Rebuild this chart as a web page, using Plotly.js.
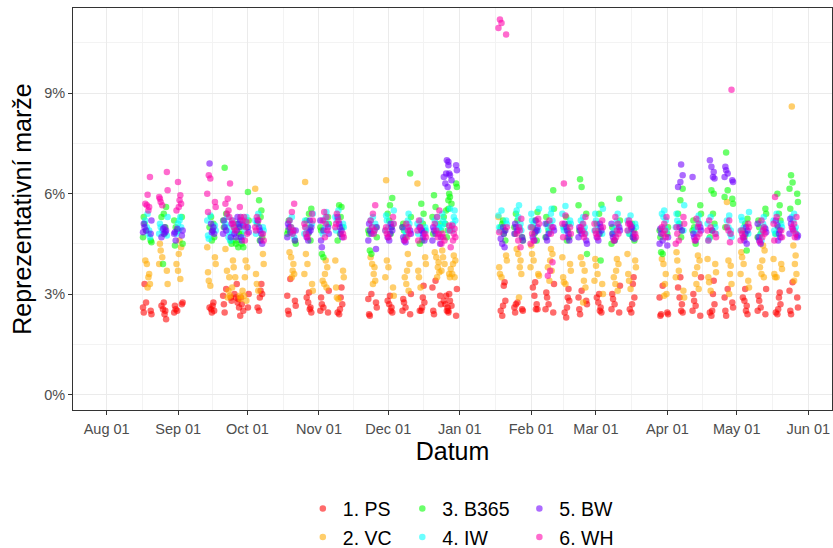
<!DOCTYPE html>
<html>
<head>
<meta charset="utf-8">
<script src="https://cdn.plot.ly/plotly-3.0.1.min.js"></script>
<style>html,body{margin:0;padding:0;background:#fff;}#chart{width:833px;height:548px;}</style>
</head>
<body>
<div id="chart"></div>
<script>
// Centre date of each weekly cluster of observations
const clusterDates = [
  "2020-08-18 14:00","2020-08-25 14:00","2020-09-01 02:00","2020-09-15 10:00","2020-09-22 07:00",
  "2020-09-26 05:00","2020-09-29 17:00","2020-10-06 05:00","2020-10-20 02:00","2020-10-27 12:00",
  "2020-11-03 10:00","2020-11-09 22:00","2020-11-24 05:00","2020-12-01 14:00","2020-12-09 00:00",
  "2020-12-15 12:00","2020-12-22 00:00","2020-12-25 22:00","2020-12-28 22:00","2021-01-19 14:00",
  "2021-01-26 12:00","2021-02-02 12:00","2021-02-09 00:00","2021-02-16 07:00","2021-02-23 07:00",
  "2021-03-02 05:00","2021-03-09 14:00","2021-03-16 12:00","2021-03-30 10:00","2021-04-06 10:00",
  "2021-04-13 17:00","2021-04-20 05:00","2021-04-27 14:00","2021-05-04 12:00","2021-05-11 22:00",
  "2021-05-18 19:00","2021-05-25 17:00"
];

// Representative margin (%) per cluster for each bookmaker
const ps = [
 [2.75,2.6,2.5,2.4,2.45,3.3],[2.75,2.65,2.55,2.5,2.4,2.25],[2.75,2.65,2.55,2.5,2.45,2.7],[2.75,2.65,2.5,2.45,2.6,2.55],
 [3.15,2.95,2.9,2.8,2.7,2.45],[3.3,3.0,2.9,2.85,2.75,2.6],[3.0,2.9,2.7,2.5,2.35,2.6],[3.3,3.1,3.0,2.9,2.6,2.5],
 [3.45,2.95,2.8,2.65,2.5,2.4],[3.05,2.9,2.75,2.6,2.55,2.45],[3.1,2.9,2.7,2.6,2.5,2.45],[3.2,2.9,2.7,2.55,2.45,2.4],
 [3.0,2.85,2.75,2.6,2.4,2.35],[2.95,2.8,2.7,2.6,2.5,2.45],[3.0,2.85,2.75,2.6,2.5,2.4],[3.25,2.9,2.75,2.6,2.5,2.5],
 [3.4,3.2,2.95,2.7,2.5,2.4],[2.95,2.8,2.7,2.6,2.5,2.45],[3.15,3.0,2.8,2.65,2.5,2.35],[3.35,3.25,2.8,2.65,2.5,2.35],
 [2.75,2.6,2.55,2.5,2.45,2.7],[3.35,3.2,2.95,2.7,2.55,2.55],[3.3,3.05,2.9,2.7,2.55,2.45],[3.15,2.9,2.8,2.6,2.45,2.3],
 [3.1,2.9,2.8,2.7,2.55,2.4],[3.0,2.9,2.75,2.6,2.5,2.45],[3.25,3.0,2.85,2.7,2.55,2.45],[3.5,3.3,2.9,2.7,2.55,2.45],
 [3.25,2.9,2.45,2.4,2.35,2.4],[3.5,3.2,2.9,2.7,2.5,2.45],[3.5,3.0,2.8,2.65,2.5,2.35],[3.4,3.0,2.7,2.5,2.45,2.35],
 [3.15,2.9,2.75,2.6,2.5,2.35],[3.15,2.9,2.8,2.65,2.5,2.4],[3.15,2.95,2.8,2.6,2.5,2.4],[3.05,2.9,2.7,2.55,2.45,2.4],
 [3.35,3.1,2.9,2.6,2.5,2.4]
];
const vc = [
 [4.0,3.9,3.6,3.5,3.3,3.2],[4.5,4.3,4.1,3.9,3.7,3.3],[4.6,4.4,4.2,3.9,3.7,3.45],[4.4,4.1,3.9,3.65,3.4,3.25],
 [4.35,3.7,3.5,3.1,2.95,2.9],[4.0,3.8,3.5,3.2,2.95,2.85],[4.0,3.8,3.5,3.1,2.95,2.8],[6.15,4.2,3.9,3.6,3.3,3.1],
 [4.25,4.1,3.9,3.7,3.6,3.5],[6.35,4.2,3.9,3.6,3.3,3.1],[4.0,3.8,3.6,3.4,3.3,3.2],[4.0,3.7,3.5,3.2,2.9,2.85],
 [4.1,3.9,3.8,3.6,3.4,3.3],[6.4,4.0,3.8,3.5,3.2,2.95],[4.2,3.9,3.7,3.5,3.3,3.1],[6.3,4.1,3.9,3.7,3.5,3.2],
 [4.25,4.1,3.95,3.8,3.65,3.5],[4.3,4.1,3.9,3.7,3.6,3.5],[4.15,4.0,3.9,3.75,3.6,3.5],[5.3,4.15,4.0,3.8,3.6,3.5],
 [4.35,4.2,4.0,3.8,3.6,2.9],[4.45,4.2,4.0,3.8,3.6,3.55],[4.35,4.2,4.0,3.8,3.4,3.7],[4.1,3.9,3.7,3.5,3.35,3.3],
 [4.1,3.9,3.7,3.4,3.2,2.75],[4.05,3.85,3.6,3.4,3.3,3.0],[4.05,3.9,3.7,3.5,3.3,3.1],[4.2,4.0,3.8,3.6,3.4,3.15],
 [4.05,3.9,3.6,3.3,3.0,2.95],[4.25,4.0,3.7,3.5,3.1,2.9],[4.15,4.0,3.8,3.6,3.3,3.15],[4.05,3.9,3.65,3.5,3.35,3.1],
 [5.75,4.0,3.85,3.6,3.3,3.0],[4.25,4.1,3.9,3.6,3.4,3.2],[4.45,4.3,4.0,3.8,3.6,3.5],[4.05,3.9,3.75,3.6,3.5,3.5],
 [8.6,4.45,4.15,3.9,3.6,3.4]
];
const b365 = [
 [5.1,4.9,4.7,4.6,4.55,5.3],[5.6,5.4,5.3,3.9,5.0,4.8],[5.3,4.5,4.45,5.0,4.9,5.2],[5.3,5.1,4.9,4.7,4.6,5.0],
 [6.77,5.4,5.2,4.6,4.5,5.0],[4.8,4.6,5.0,4.5,4.4,5.1],[6.05,5.2,4.8,4.5,4.4,5.0],[5.8,5.5,5.3,4.7,4.6,5.1],
 [5.2,5.0,4.8,4.6,4.5,4.9],[5.55,5.4,5.2,4.8,4.6,5.0],[5.3,5.1,4.9,4.2,4.1,5.0],[5.65,5.6,5.3,5.0,4.8,4.6],
 [4.3,4.2,4.9,5.0,4.7,4.8],[5.87,5.65,5.4,5.2,5.0,4.8],[6.6,5.3,5.1,4.9,4.7,5.0],[5.7,5.4,5.1,4.9,4.6,4.5],
 [5.95,5.6,5.3,5.1,4.9,4.8],[5.8,5.5,5.3,5.1,4.9,4.7],[6.3,6.2,6.0,5.9,5.7,5.55],[5.1,4.9,4.8,4.6,5.2,5.0],
 [5.4,5.2,5.0,4.7,4.6,4.8],[5.45,5.2,5.0,4.8,4.6,4.9],[6.1,5.55,5.3,5.1,4.9,4.7],[5.3,5.1,4.9,4.7,4.6,5.0],
 [6.43,6.2,5.65,5.4,4.2,4.9],[5.67,5.4,5.1,4.9,4.0,4.8],[5.85,5.2,5.0,4.8,4.6,4.5],[5.0,4.9,4.7,4.6,5.1,4.8],
 [4.25,4.2,4.9,4.8,5.0,4.7],[6.15,5.8,5.4,5.1,4.9,4.7],[5.65,5.4,5.2,5.0,4.5,4.9],[6.1,6.0,5.4,5.1,4.9,4.7],
 [7.23,6.1,5.9,5.85,5.7,5.0],[5.25,5.1,4.9,4.7,4.3,4.8],[5.55,5.4,5.2,5.0,4.8,4.7],[6.0,5.65,5.4,5.2,5.0,4.8],
 [6.55,6.33,6.15,6.0,5.75,5.55]
];
const iw = [
 [5.4,5.2,5.0,4.9,4.8,4.7],[5.3,5.1,5.0,4.9,4.8,4.75],[5.3,5.2,5.0,4.9,4.8,5.1],[5.35,5.2,5.05,4.9,4.75,4.65],
 [5.3,5.1,5.0,4.85,4.7,4.6],[5.3,5.2,5.0,4.9,4.8,5.1],[5.3,5.2,5.0,4.9,4.7,5.1],[5.4,5.2,5.0,4.9,4.8,5.1],
 [5.3,5.2,5.0,4.9,4.8,4.7],[5.4,5.2,5.0,4.9,4.8,5.1],[5.45,5.3,5.1,5.0,4.8,5.2],[5.5,5.3,5.1,5.0,4.9,5.2],
 [5.3,5.2,5.0,4.9,4.85,5.1],[5.5,5.35,5.2,5.0,4.9,5.1],[5.4,5.2,5.1,5.0,4.9,4.8],[5.2,5.1,5.0,4.9,4.8,5.0],
 [5.3,5.2,5.1,5.0,4.9,5.0],[5.55,5.4,5.2,5.1,5.0,4.9],[5.5,5.3,5.2,5.1,5.0,4.9],[5.5,5.35,5.2,5.1,5.0,4.9],
 [5.65,5.5,5.3,5.1,5.0,4.9],[5.55,5.4,5.2,5.1,5.0,4.9],[5.55,5.4,5.2,5.1,5.0,4.85],[5.63,5.4,5.2,5.1,5.0,4.9],
 [5.3,5.2,5.1,5.0,4.9,4.8],[5.55,5.4,5.2,5.05,4.9,4.8],[5.4,5.2,5.1,5.0,4.9,4.8],[5.35,5.2,5.1,5.0,4.9,4.8],
 [5.5,5.4,5.3,5.2,5.0,4.9],[5.65,5.4,5.2,5.1,5.0,4.9],[5.35,5.2,5.1,5.0,4.9,4.8],[5.3,5.1,5.0,4.8,4.6,4.65],
 [5.35,5.2,5.0,4.9,4.8,4.7],[5.45,5.3,5.2,5.0,4.9,4.8],[5.3,5.1,5.0,4.9,4.75,4.6],[5.4,5.2,5.1,5.0,4.9,4.8],
 [5.4,5.3,5.2,5.0,4.9,4.8]
];
const bw = [
 [5.1,5.0,4.9,4.85,4.8,5.2],[5.0,4.9,4.8,4.7,4.95,4.85],[4.8,4.75,4.9,4.85,4.6,4.95],[6.9,5.1,5.0,4.9,4.8,4.85],
 [5.2,5.0,4.9,4.8,4.7,5.1],[5.3,5.0,4.9,4.8,4.7,5.1],[5.2,5.0,4.85,4.7,4.6,5.05],[5.2,5.0,4.8,4.6,4.5,4.9],
 [5.1,5.0,4.85,4.7,4.6,4.9],[5.2,5.0,4.85,4.7,4.6,4.9],[5.2,5.0,4.8,4.6,4.4,4.9],[5.3,5.1,4.9,4.8,4.7,5.0],
 [5.1,4.9,4.8,4.6,4.35,5.0],[5.1,4.9,4.8,4.7,4.6,5.0],[5.0,4.9,4.8,4.7,4.6,4.55],[5.0,4.9,4.8,4.7,4.6,4.9],
 [5.0,4.9,4.8,4.6,4.5,4.7],[7.0,6.85,6.6,6.5,6.3,6.2],[6.95,6.85,6.7,6.6,6.55,6.4],[4.65,4.5,4.4,4.8,4.9,5.0],
 [5.1,5.0,4.9,4.8,4.7,4.6],[5.2,5.0,4.85,4.7,4.6,4.9],[5.1,5.0,4.9,4.7,4.6,4.8],[5.1,5.0,4.8,4.7,4.6,4.9],
 [5.0,4.9,4.8,4.7,4.6,4.5],[5.1,4.9,4.8,4.7,4.6,5.0],[5.1,5.0,4.9,4.8,4.7,4.6],[5.1,4.95,4.8,4.7,4.65,5.0],
 [4.95,4.8,4.6,4.5,4.45,4.7],[6.87,6.55,6.35,6.2,5.0,4.9],[6.5,5.0,4.9,4.8,4.7,4.6],[7.0,6.8,6.65,6.5,6.45,4.9],
 [6.8,6.7,6.6,6.5,6.4,6.35],[5.0,4.9,4.8,4.7,4.6,4.5],[5.1,4.95,4.85,4.7,4.6,4.5],[5.2,5.05,4.9,4.8,4.7,4.6],
 [5.25,5.1,4.95,4.8,4.7,4.75]
];
const wh = [
 [6.5,5.97,5.7,5.65,5.6,5.5],[6.65,6.1,5.85,5.75,5.65,5.9],[6.35,5.95,5.8,5.7,5.6,5.5],[6.55,6.45,6.0,5.75,5.6,5.45],
 [6.3,5.85,5.7,5.4,5.3,5.5],[5.6,5.3,5.1,5.0,4.9,5.2],[5.3,5.15,5.0,4.8,4.6,5.2],[5.3,5.2,5.0,4.8,4.6,4.9],
 [5.7,5.45,5.2,5.0,4.9,4.8],[5.4,5.2,5.0,4.8,4.7,5.1],[5.45,5.3,5.1,4.9,4.7,5.2],[5.4,5.2,5.0,4.8,4.7,5.1],
 [5.65,5.4,5.2,5.0,4.9,4.8],[5.3,5.1,5.0,4.8,4.7,4.9],[5.1,5.0,4.9,4.8,4.7,4.6],[5.2,5.0,4.9,4.8,4.7,4.6],
 [5.5,5.3,5.1,4.9,4.8,4.7],[5.05,4.9,4.8,4.7,4.6,4.5],[5.05,4.95,4.8,4.7,4.6,4.4],[11.2,11.1,10.95,10.75,5.0,4.85],
 [5.25,5.0,4.8,4.6,4.4,4.9],[5.25,5.1,5.0,4.8,4.6,4.5],[5.2,5.0,4.8,3.95,3.7,3.55],[6.3,5.35,5.1,5.0,4.8,4.7],
 [5.3,5.1,5.0,4.9,4.8,4.7],[5.2,5.0,4.9,4.8,4.7,5.1],[5.3,5.1,4.9,4.8,4.7,4.6],[5.2,5.05,4.9,4.8,4.7,5.1],
 [5.3,5.1,5.0,4.8,4.7,4.9],[5.3,5.1,5.0,4.8,4.6,4.5],[5.25,5.1,5.0,4.8,4.7,4.6],[5.2,5.0,4.9,4.8,4.7,4.6],
 [9.1,5.2,5.0,4.9,4.8,4.55],[5.1,5.0,4.9,4.8,4.7,4.6],[5.2,5.0,4.9,4.8,4.7,4.55],[5.9,5.3,5.1,4.9,4.7,4.6],
 [5.3,5.1,5.0,4.9,4.8,4.7]
];

const seriesNames = ["1. PS","2. VC","3. B365","4. IW","5. BW","6. WH"];
const seriesValues = [ps, vc, b365, iw, bw, wh];
const seriesColors = ["#FF0000","#FFAA00","#00FF00","#00FFFF","#7000FF","#FF00AA"];
const legendOf = ["legend","legend","legend2","legend2","legend3","legend3"];

const xTickVals = ["2020-08-01","2020-09-01","2020-10-01","2020-11-01","2020-12-01","2021-01-01",
                   "2021-02-01","2021-03-01","2021-04-01","2021-05-01","2021-06-01"];
const xTickText = ["Aug 01","Sep 01","Oct 01","Nov 01","Dec 01","Jan 01","Feb 01","Mar 01","Apr 01","May 01","Jun 01"];
const xMinorVals = ["2020-07-16 12:00","2020-08-16 12:00","2020-09-16","2020-10-16 12:00","2020-11-16","2020-12-16 12:00",
                    "2021-01-16 12:00","2021-02-15","2021-03-16 12:00","2021-04-16","2021-05-16 12:00"];

// horizontal jitter (hours) applied within each cluster, as geom_jitter does
const jitterHours = [-12, 28, -44, 4, 36, -20, 44, -4, -36, 20, -28, 12];

function toStr(ms){ return new Date(ms).toISOString().slice(0,19).replace('T',' '); }

const traces = seriesValues.map((vals, s) => {
  const x = [], y = [];
  vals.forEach((arr, c) => {
    const base = Date.parse(clusterDates[c].replace(' ','T') + ':00Z');
    arr.forEach((v, i) => {
      const h = jitterHours[(i*2 + s*5 + c*3) % 12];
      x.push(toStr(base + h*3600000));
      y.push(v);
    });
  });
  return {
    type: 'scatter', mode: 'markers', name: seriesNames[s], x, y,
    legend: legendOf[s], legendgroup: 'g'+s,
    marker: {color: seriesColors[s], size: 6.5, opacity: 0.58, line: {width: 0}},
    hoverinfo: 'x+y+name'
  };
});

const FAM = '"Liberation Sans", Arial, sans-serif';
const legendBase = {orientation: 'v', xanchor: 'left', yanchor: 'top', y: -0.1975,
  font: {family: FAM, size: 19.5, color: '#000'}, tracegroupgap: 0, bgcolor: 'rgba(0,0,0,0)',
  itemsizing: 'trace'};

const layout = {
  width: 833, height: 548,
  margin: {l: 73, r: 1, t: 8, b: 137.5, autoexpand: false},
  paper_bgcolor: '#fff', plot_bgcolor: '#fff',
  font: {family: FAM, color: '#000'},
  showlegend: true,
  xaxis: {
    type: 'date',
    range: ['2020-07-17 10:00', '2021-06-11 07:00'],
    tickmode: 'array', tickvals: xTickVals, ticktext: xTickText,
    ticks: 'outside', ticklen: 4, tickcolor: '#333', tickwidth: 1, ticklabelstandoff: 2,
    tickfont: {family: FAM, size: 14.5, color: '#4D4D4D'},
    showgrid: true, gridcolor: '#EBEBEB', gridwidth: 1,
    minor: {tickmode: 'array', tickvals: xMinorVals, showgrid: true, gridcolor: '#F3F3F3', gridwidth: 1, ticks: ''},
    showline: true, linecolor: '#333', linewidth: 1, mirror: true,
    zeroline: false,
    title: {text: 'Datum', font: {family: FAM, size: 25, color: '#000'}, standoff: 3}
  },
  yaxis: {
    range: [-0.462, 11.545],
    tickmode: 'linear', tick0: 0, dtick: 3, ticksuffix: '%',
    ticks: 'outside', ticklen: 4, tickcolor: '#333', tickwidth: 1,
    tickfont: {family: FAM, size: 14.5, color: '#4D4D4D'},
    showgrid: true, gridcolor: '#EBEBEB', gridwidth: 1,
    minor: {tick0: 1.5, dtick: 3, showgrid: true, gridcolor: '#F3F3F3', gridwidth: 1, ticks: ''},
    showline: true, linecolor: '#333', linewidth: 1, mirror: true,
    zeroline: false,
    title: {text: 'Reprezentativní marže', font: {family: FAM, size: 25, color: '#000'}, standoff: 5}
  },
  legend: Object.assign({}, legendBase, {x: 0.3028}),
  legend2: Object.assign({}, legendBase, {x: 0.4339}),
  legend3: Object.assign({}, legendBase, {x: 0.5881})
};

Plotly.newPlot('chart', traces, layout, {displayModeBar: false, staticPlot: true});
</script>
</body>
</html>
